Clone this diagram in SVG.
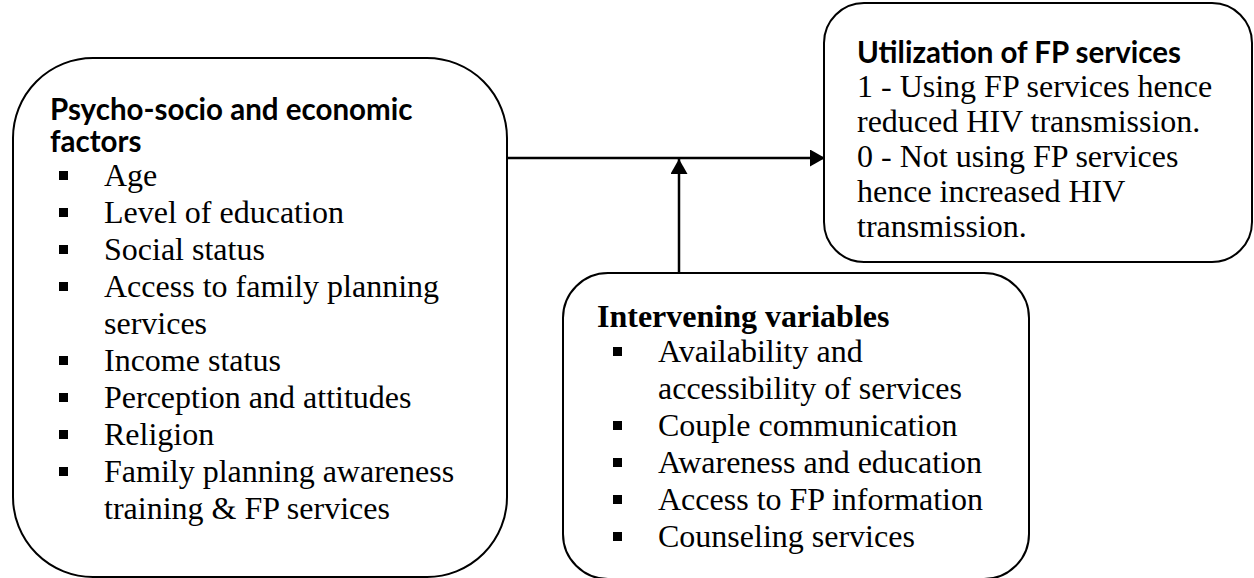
<svg xmlns="http://www.w3.org/2000/svg" width="1254" height="578" viewBox="0 0 1254 578">
  <style>
    .box { fill: #ffffff; stroke: #000000; stroke-width: 2; }
    .head { font-family: Lato, "Liberation Sans", sans-serif; font-weight: bold; font-size: 29.5px; fill: #000000; }
    .headserif { font-family: "Liberation Serif", "Times New Roman", serif; font-weight: bold; font-size: 32px; fill: #000000; }
    .body { font-family: "Liberation Serif", "Times New Roman", serif; font-size: 32px; fill: #000000; }
    .bullet { fill: #000000; }
    .link { stroke: #000000; stroke-width: 2.5; fill: none; }
  </style>
  <defs>
    <marker id="arrow" markerUnits="userSpaceOnUse" markerWidth="16" markerHeight="18" refX="15" refY="8.5" orient="auto">
      <path d="M0,0 L15,8.5 L0,17 Z" fill="#000000"/>
    </marker>
  </defs>
  <rect width="1254" height="578" fill="#ffffff"/>

  <!-- independent variables -->
  <g id="factors">
    <rect class="box" x="13" y="58" width="494" height="519" rx="80" ry="80"/>
    <text class="head" x="50" y="120">Psycho-socio and economic</text>
    <text class="head" x="50" y="152">factors</text>
    <rect class="bullet" x="59" y="171" width="9" height="9"/>
    <text class="body" x="104" y="186">Age</text>
    <rect class="bullet" x="59" y="208" width="9" height="9"/>
    <text class="body" x="104" y="223">Level of education</text>
    <rect class="bullet" x="59" y="245" width="9" height="9"/>
    <text class="body" x="104" y="260">Social status</text>
    <rect class="bullet" x="59" y="282" width="9" height="9"/>
    <text class="body" x="104" y="297">Access to family planning</text>
    <text class="body" x="104" y="334">services</text>
    <rect class="bullet" x="59" y="356" width="9" height="9"/>
    <text class="body" x="104" y="371">Income status</text>
    <rect class="bullet" x="59" y="393" width="9" height="9"/>
    <text class="body" x="104" y="408">Perception and attitudes</text>
    <rect class="bullet" x="59" y="430" width="9" height="9"/>
    <text class="body" x="104" y="445">Religion</text>
    <rect class="bullet" x="59" y="467" width="9" height="9"/>
    <text class="body" x="104" y="482">Family planning awareness</text>
    <text class="body" x="104" y="519">training &amp; FP services</text>
  </g>

  <!-- dependent variable -->
  <g id="utilization">
    <rect class="box" x="824" y="3" width="428" height="259" rx="40" ry="40"/>
    <text class="head" x="857" y="63">Utilization of FP services</text>
    <text class="body" x="857" y="97">1 - Using FP services hence</text>
    <text class="body" x="857" y="132">reduced HIV transmission.</text>
    <text class="body" x="857" y="167">0 - Not using FP services</text>
    <text class="body" x="857" y="202">hence increased HIV</text>
    <text class="body" x="857" y="237">transmission.</text>
  </g>

  <!-- intervening variables -->
  <g id="intervening">
    <rect class="box" x="563" y="273" width="466" height="306" rx="45" ry="45"/>
    <text class="headserif" x="597" y="327">Intervening variables</text>
    <rect class="bullet" x="613" y="347" width="9" height="9"/>
    <text class="body" x="658" y="362">Availability and</text>
    <text class="body" x="658" y="399">accessibility of services</text>
    <rect class="bullet" x="613" y="421" width="9" height="9"/>
    <text class="body" x="658" y="436">Couple communication</text>
    <rect class="bullet" x="613" y="458" width="9" height="9"/>
    <text class="body" x="658" y="473">Awareness and education</text>
    <rect class="bullet" x="613" y="495" width="9" height="9"/>
    <text class="body" x="658" y="510">Access to FP information</text>
    <rect class="bullet" x="613" y="532" width="9" height="9"/>
    <text class="body" x="658" y="547">Counseling services</text>
  </g>

  <!-- connectors -->
  <g id="connectors">
    <line class="link" x1="507" y1="158" x2="825" y2="158" marker-end="url(#arrow)"/>
    <line class="link" x1="679" y1="273" x2="679" y2="159" marker-end="url(#arrow)"/>
  </g>
</svg>
